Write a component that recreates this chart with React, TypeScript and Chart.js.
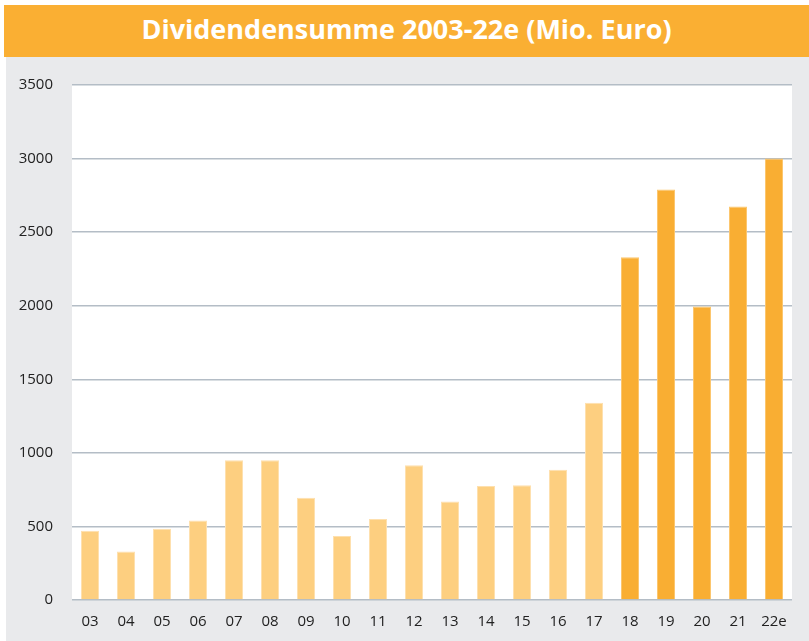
import React, { useEffect, useRef } from "react";
import { Chart, registerables } from "chart.js";

Chart.register(...registerables);

const TITLE = "Dividendensumme 2003-22e (Mio. Euro)";
const categories = ["03", "04", "05", "06", "07", "08", "09", "10", "11", "12", "13", "14", "15", "16", "17", "18", "19", "20", "21", "22e"];
const dividends = [470, 330, 485, 540, 950, 950, 695, 435, 550, 915, 670, 775, 780, 885, 1340, 2330, 2790, 1995, 2675, 3000];
const highlightFrom = "18";
const yMin = 0;
const yMax = 3500;
const yStep = 500;

const LIGHT = "#FDCF80";
const LIGHT_BORDER = "#FEE0AE";
const DARK = "#F9AE33";
const DARK_BORDER = "#FCC66E";

const plotBg = {
  id: "plotBg",
  beforeDraw(chart: any) {
    const { ctx, chartArea } = chart;
    ctx.save();
    ctx.fillStyle = "#FFFFFF";
    ctx.fillRect(chartArea.left, chartArea.top, chartArea.right - chartArea.left, chartArea.bottom - chartArea.top);
    ctx.restore();
  },
};

export default function App() {
  const ref = useRef<HTMLCanvasElement>(null);

  useEffect(() => {
    document.body.style.margin = "0";
    const hi = categories.indexOf(highlightFrom);
    const chart = new Chart(ref.current!, {
      type: "bar",
      data: {
        labels: categories,
        datasets: [
          {
            data: dividends,
            backgroundColor: categories.map((_, i) => (i >= hi ? DARK : LIGHT)),
            borderColor: categories.map((_, i) => (i >= hi ? DARK_BORDER : LIGHT_BORDER)),
            borderWidth: 1,
            barPercentage: 0.5,
            categoryPercentage: 1,
          },
        ],
      },
      plugins: [plotBg],
      options: {
        animation: false,
        responsive: false,
        maintainAspectRatio: false,
        layout: { padding: { top: 24, right: 17, left: 0, bottom: 0 } },
        plugins: { legend: { display: false }, tooltip: { enabled: false }, title: { display: false } },
        scales: {
          x: {
            grid: { display: false, drawTicks: false },
            border: { display: false },
            ticks: {
              color: "#222222",
              font: { family: "'Open Sans', sans-serif", size: 15 },
              padding: 13,
              maxRotation: 0,
              autoSkip: false,
            },
            afterFit(scale: any) {
              scale.height = 41;
            },
          },
          y: {
            min: yMin,
            max: yMax,
            grid: { color: "#B4BDC6", lineWidth: 1.5, drawTicks: false },
            border: { display: false },
            ticks: {
              stepSize: yStep,
              color: "#222222",
              font: { family: "'Open Sans', sans-serif", size: 15 },
              padding: 19,
              callback: (v: any) => String(v),
            },
            afterFit(scale: any) {
              scale.width = 66;
            },
          },
        },
      },
    });
    return () => chart.destroy();
  }, []);

  return (
    <div style={{ position: "absolute", left: 0, top: 0, width: 809, height: 641, background: "#FFFFFF", overflow: "hidden" }}>
      <div
        style={{
          position: "absolute",
          left: 4,
          top: 5,
          width: 805,
          height: 52,
          background: "#FAAF33",
          color: "#FFFFFF",
          fontFamily: "'Open Sans', sans-serif",
          fontWeight: 700,
          fontSize: 27,
          lineHeight: "47px",
          textAlign: "center",
          letterSpacing: 0,
        }}
      >
        {TITLE}
      </div>
      <div style={{ position: "absolute", left: 6, top: 57, width: 803, height: 584, background: "#E9EAEC" }}>
        <canvas ref={ref} width={803} height={584} style={{ display: "block", width: 803, height: 584 }} />
      </div>
    </div>
  );
}
